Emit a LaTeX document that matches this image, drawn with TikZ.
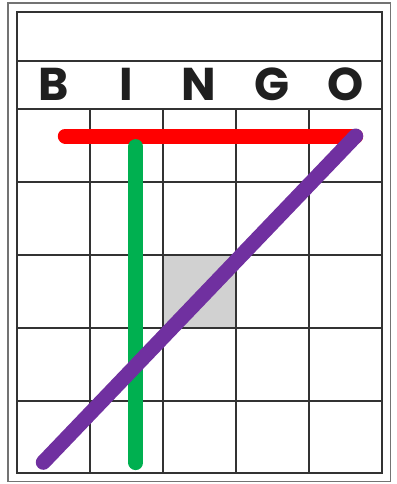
\documentclass[tikz,border=0pt]{standalone}
\usepackage{fontspec}
\usepackage{xcolor}
\newfontfamily\bingofont{Poppins}
\definecolor{markred}{HTML}{FF0000}
\definecolor{markgreen}{HTML}{00B050}
\definecolor{markpurple}{HTML}{7030A0}
\newcommand{\BL}{\bingofont\fontsize{23}{23}\selectfont\bfseries}

\begin{document}
\begin{tikzpicture}[x=0.5pt,y=-0.5pt]
\tikzstyle{rule}=[draw=black!80,line width=1pt]
\tikzstyle{letter}=[draw=none,fill=none,black!88,font=\BL,anchor=base]
\tikzstyle{marker}=[line width=7.5pt,line cap=round]

\useasboundingbox (0,0) rectangle (397,484);
\draw[black!55,line width=0.8pt] (8,3) rectangle (390.5,481.5);

% free space
\fill[black!18] (162.7,254.7) rectangle (235.7,327.7);

% card
\draw[rule] (16.7,12) rectangle (381.7,473.3);
\draw[rule] (16.7,60.7) -- (381.7,60.7);
\draw[rule] (16.7,109) -- (381.7,109);
\foreach \x in {90,162.7,235.7,308.7}
  \draw[rule] (\x,109) -- (\x,473.3);
\foreach \y in {181.7,254.7,327.7,400.5}
  \draw[rule] (16.7,\y) -- (381.7,\y);

\node[letter] (b) at (53.3,100)  {B};
\node[letter] (i) at (126.3,100) {I};
\node[letter] (n) at (199.2,100) {N};
\node[letter] (g) at (272.2,100) {G};
\node[letter] (o) at (345.2,100) {O};

% winning lines
\coordinate (redA) at (65.3,136);
\coordinate (redB) at (355.7,136);
\coordinate (greenA) at (135.8,146.6);
\coordinate (greenB) at (135.8,462.6);
\coordinate (purpleA) at (355.7,136);
\coordinate (purpleB) at (43.3,462.3);

\draw[marker,markred] (redA) -- (redB);
\draw[marker,markgreen] (greenA) -- (greenB);
\draw[marker,markpurple] (purpleA) -- (purpleB);
\end{tikzpicture}
\end{document}
